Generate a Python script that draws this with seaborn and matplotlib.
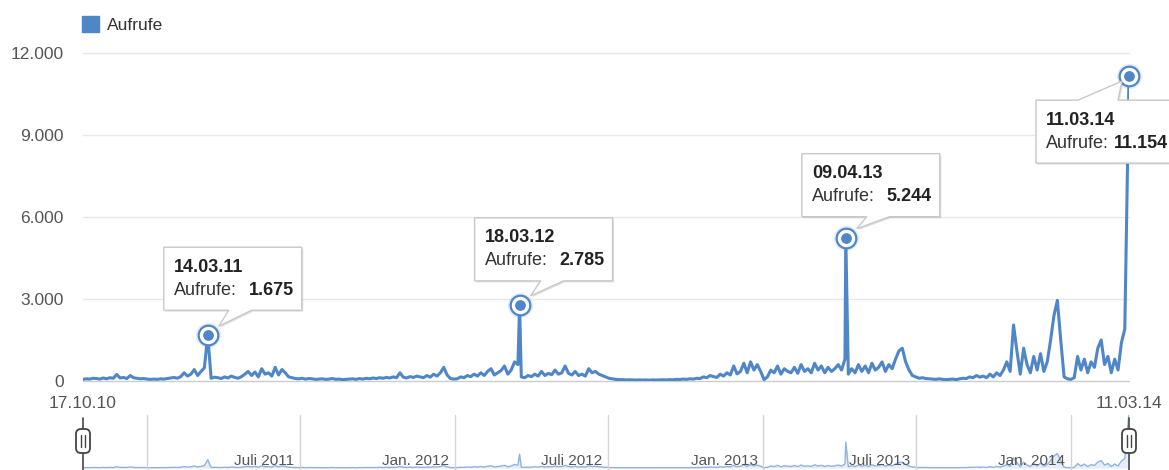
import pandas as pd
import matplotlib.pyplot as plt
import matplotlib.dates as mdates
import seaborn as sns
from matplotlib.patches import Polygon, Patch, FancyBboxPatch
from matplotlib.ticker import FuncFormatter

start_date = '2010-10-17'
end_date = '2014-03-11'
views = [
    60, 80, 70, 100, 90, 70, 110, 80, 120, 100,
    240, 110, 130, 90, 200, 120, 100, 80, 90, 70,
    60, 70, 60, 80, 70, 90, 110, 130, 100, 160,
    300, 180, 250, 420, 200, 350, 480, 300, 100, 140,
    120, 90, 150, 110, 180, 130, 100, 160, 250, 350,
    200, 330, 150, 450, 250, 300, 180, 500, 220, 420,
    300, 150, 120, 90, 80, 100, 70, 90, 80, 60,
    70, 80, 60, 70, 90, 60, 70, 50, 60, 70,
    80, 60, 90, 70, 100, 80, 110, 90, 120, 100,
    130, 110, 150, 120, 300, 140, 110, 160, 130, 180,
    150, 120, 200, 140, 250, 180, 300, 500, 220, 90,
    70, 80, 150, 120, 200, 160, 250, 180, 300, 200,
    350, 450, 220, 300, 380, 550, 250, 400, 700, 600,
    150, 120, 200, 160, 250, 180, 350, 200, 280, 230,
    400, 250, 300, 550, 280, 220, 350, 200, 250, 180,
    450, 300, 350, 250, 200, 150, 100, 80, 60, 50,
    50, 40, 45, 40, 35, 40, 35, 40, 30, 40,
    35, 40, 45, 40, 50, 45, 60, 55, 70, 60,
    80, 70, 100, 90, 150, 120, 200, 160, 130, 250,
    180, 300, 220, 550, 260, 350, 650, 300, 700, 400,
    600, 350, 50, 150, 400, 300, 550, 250, 450, 350,
    300, 500, 280, 600, 350, 450, 300, 650, 400, 550,
    300, 500, 350, 450, 600, 400, 800, 250, 450, 300,
    600, 350, 550, 300, 650, 400, 500, 700, 350, 600,
    450, 800, 1100, 1200, 700, 400, 200, 150, 100, 120,
    90, 80, 70, 60, 80, 60, 50, 60, 70, 50,
    80, 100, 90, 150, 120, 200, 140, 180, 120, 250,
    150, 300, 200, 400, 700, 350, 2050, 1100, 250, 1200,
    600, 300, 900, 400, 1000, 350, 700, 1500, 2400, 2950,
    1500, 150, 80, 60, 120, 900, 400, 800, 300, 700,
    500, 1200, 1500, 600, 900, 300, 800, 400, 1400, 1900,
]

# annotated peaks
peak_dates = ['2011-03-14', '2012-03-18', '2013-04-09', '2014-03-11']
peak_views = [1675, 2785, 5244, 11154]

y_ticks = [0, 3000, 6000, 9000, 12000]

# range selector below the chart
nav_months = ['2011-01-01', '2011-07-01', '2012-01-01', '2012-07-01',
              '2013-01-01', '2013-07-01', '2014-01-01']
nav_labels = ['', 'Juli 2011', 'Jan. 2012', 'Juli 2012',
              'Jan. 2013', 'Juli 2013', 'Jan. 2014']

W, H = 1169, 470
BLUE = '#4f86c8'


def de_num(v):
    return f'{v:,.0f}'.replace(',', '.')


base = pd.Series(views, index=pd.date_range(start_date, periods=len(views), freq='4D'))
peaks = pd.Series(peak_views, index=pd.to_datetime(peak_dates))
s = pd.concat([base, peaks])
s = s[~s.index.duplicated(keep='last')].sort_index()
df = pd.DataFrame({'Datum': s.index, 'Aufrufe': s.values})

sns.set_theme(style='white')
plt.rcParams['font.family'] = ['Liberation Sans', 'DejaVu Sans']

fig = plt.figure(figsize=(W / 100, H / 100), dpi=100)


def px_axes(x0, y0, x1, y1):
    # pixel box measured from the top-left corner
    return fig.add_axes([x0 / W, 1 - y1 / H, (x1 - x0) / W, (y1 - y0) / H])


x_range = (pd.Timestamp(start_date), pd.Timestamp(end_date))

# main chart
ax = px_axes(83, 53, 1129, 381)
sns.lineplot(data=df, x='Datum', y='Aufrufe', ax=ax, color=BLUE,
             linewidth=2.2, legend=False, zorder=3)
ax.set_xlim(*x_range)
ax.set_ylim(0, 12000)
ax.set_yticks(y_ticks)
ax.yaxis.set_major_formatter(FuncFormatter(lambda v, p: de_num(v)))
ax.tick_params(axis='y', length=0, pad=14, labelsize=12.5, labelcolor='#555555')
ax.set_xticks([])
ax.set_xlabel('')
ax.set_ylabel('')
for sp in ax.spines.values():
    sp.set_visible(False)
for t in y_ticks:
    ax.axhline(t, color='#cccccc' if t == 0 else '#e8e8e8', lw=1, zorder=0, clip_on=False)

ax.scatter(peaks.index, peaks.values, s=330, color=BLUE, alpha=0.15, lw=0, zorder=5, clip_on=False)
ax.scatter(peaks.index, peaks.values, s=200, facecolor='white', edgecolor=BLUE,
           linewidth=1.6, zorder=6, clip_on=False)
ax.scatter(peaks.index, peaks.values, s=60, color=BLUE, lw=0, zorder=7, clip_on=False)

ax.legend(handles=[Patch(color=BLUE, label='Aufrufe')], loc='lower left',
          bbox_to_anchor=(82 / W, 1 - 33 / H), bbox_transform=fig.transFigure,
          frameon=False, handlelength=1.0, handleheight=1.0, handletextpad=0.45,
          borderpad=0, borderaxespad=0, fontsize=12.5, labelcolor='#333333')

# range selector
nav = px_axes(83, 415, 1129, 470)
nav.fill_between(df['Datum'], df['Aufrufe'], color='#e4edf8', lw=0)
sns.lineplot(data=df, x='Datum', y='Aufrufe', ax=nav, color='#8fb2e0',
             linewidth=1, legend=False)
nav.set_xlim(*x_range)
nav.set_ylim(-400, 10700)
nav.axis('off')
for m, lab in zip(nav_months, nav_labels):
    mx = mdates.date2num(pd.Timestamp(m))
    nav.axvline(mx, color='#d4d4d4', lw=1)
    if lab:
        nav.annotate(lab, xy=(mx, 0.17), xycoords=nav.get_xaxis_transform(),
                     xytext=(-4, 0), textcoords='offset points', ha='right', va='center',
                     fontsize=11, color='#555555')

# overlay in pixel coordinates for tooltips and handles
over = fig.add_axes([0, 0, 1, 1], zorder=10)
over.set_xlim(0, W)
over.set_ylim(H, 0)
over.axis('off')
over.patch.set_alpha(0)


def to_px(x, y):
    dx, dy = ax.transData.transform((mdates.date2num(x), y))
    return dx, H - dy


for d in x_range:
    hx = to_px(d, 0)[0]
    over.plot([hx, hx], [418, 470], color='#555555', lw=1.3, zorder=2)
    over.add_patch(FancyBboxPatch((hx - 7, 429), 14, 24,
                                  boxstyle='round,pad=0,rounding_size=5',
                                  fc='white', ec='#444444', lw=1.3, zorder=3))
    for off in (-2, 2):
        over.plot([hx + off, hx + off], [435, 447], color='#444444', lw=1, zorder=4)
    over.text(hx, 403, d.strftime('%d.%m.%y'), ha='center', va='center',
              fontsize=12.5, color='#555555')

# tooltip box offsets from the marker, and where the bold value starts
tip_dx = [-44, -45, -44, -93]
tip_dy = [-88, -87, -84, 24]
tip_val = [85, 85, 85, 78]
tip_h = 63

for d, v, dx, dy, vx in zip(peaks.index, peaks.values, tip_dx, tip_dy, tip_val):
    px, py = to_px(d, v)
    val = de_num(v)
    w = 96 + 8.4 * len(val)
    x0, y0 = px + dx, py + dy
    x1, y1 = x0 + w, y0 + tip_h
    if dy < 0:
        pts = [(x0, y0), (x1, y0), (x1, y1), (px + 44, y1), (px + 11, py - 9),
               (px + 21, y1), (x0, y1)]
    else:
        pts = [(x0, y0), (px - 51, y0), (px - 7, py + 5), (px - 11, y0),
               (x1, y0), (x1, y1), (x0, y1)]
    shadow = [(x + 1.5, y + 1.5) for x, y in pts]
    over.add_patch(Polygon(shadow, closed=True, fc=(0, 0, 0, 0.12), lw=0, zorder=5))
    over.add_patch(Polygon(pts, closed=True, fc='white', ec='#c8c8c8', lw=1, zorder=6))
    over.text(x0 + 10, y0 + 20, d.strftime('%d.%m.%y'), ha='left', va='center',
              fontsize=13, fontweight='bold', color='#222222', zorder=7)
    over.text(x0 + 10, y0 + 43, 'Aufrufe:', ha='left', va='center',
              fontsize=13, color='#333333', zorder=7)
    over.text(x0 + vx, y0 + 43, val, ha='left', va='center',
              fontsize=13, fontweight='bold', color='#222222', zorder=7)

fig.savefig('out.png', dpi=100)
